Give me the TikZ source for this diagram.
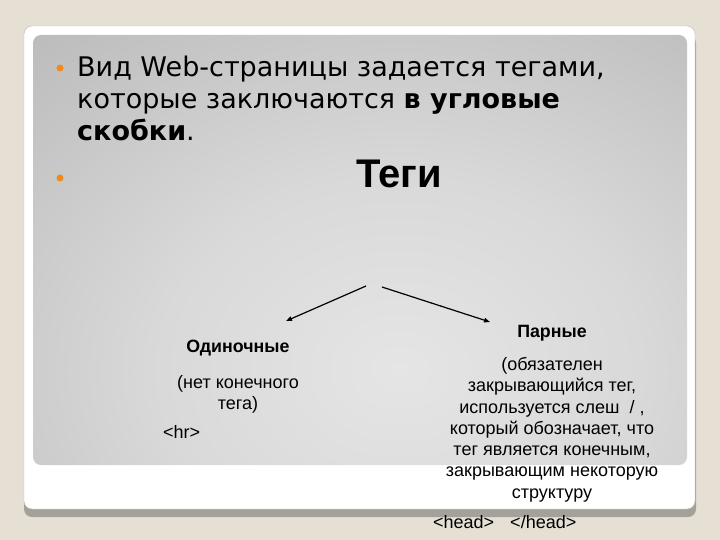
\documentclass[tikz,border=0pt]{standalone}
\usepackage{fontspec}
\setmainfont{Liberation Sans}
\newfontfamily\slidefont{DejaVu Sans}
\usetikzlibrary{arrows.meta}
\definecolor{slidebg}{RGB}{229,223,212}
\definecolor{cardedge}{RGB}{190,186,178}
\definecolor{cardshadow}{RGB}{164,161,154}
\definecolor{bulletorange}{RGB}{240,138,30}
\definecolor{shadeA}{RGB}{229,229,229}
\definecolor{shadeB}{RGB}{217,217,217}
\definecolor{shadeC}{RGB}{193,193,193}
\definecolor{shadeD}{RGB}{169,169,169}
\definecolor{shadeE}{RGB}{150,150,150}
\pgfdeclareradialshading{panelshade}{\pgfpoint{0bp}{0bp}}{color(0bp)=(shadeA); color(12bp)=(shadeB); color(25bp)=(shadeC); color(38bp)=(shadeD); color(50bp)=(shadeE)}

\begin{document}
\begin{tikzpicture}[x=1pt, y=-1pt,
  bullet/.style={circle, fill=bulletorange, inner sep=0pt, minimum size=7pt},
  kindlabel/.style={inner sep=0pt, anchor=base, font=\bfseries\fontsize{17.8}{20}\selectfont},
  kindnote/.style={inner sep=0pt, align=center, font=\fontsize{18}{21.3}\selectfont},
  branch/.style={line width=1.2pt, -{Triangle[length=6pt, width=4.5pt]}}]
\useasboundingbox (0,0) rectangle (720,540);
\fill[slidebg] (0,0) rectangle (720,540);

% card and grey panel
\fill[cardshadow, rounded corners=8pt] (24,35) rectangle (696,517);
\filldraw[fill=white, draw=cardedge, rounded corners=8pt] (24,26) rectangle (695,509);
\begin{scope}
  \clip[rounded corners=8pt] (33,35) rectangle (687,465);
  \shade[shading=panelshade] (-100,-30) rectangle (900,770);
\end{scope}

\node[bullet] (b1) at (60,68) {};
\node[bullet] (b2) at (60,178) {};
\node[inner sep=0pt, anchor=north west, align=left,
      font=\slidefont\fontsize{27}{32}\selectfont] (intro) at (77,55.5)
  {Вид Web-страницы задается тегами,\\
   которые заключаются \textbf{в угловые}\\
   \textbf{скобки}.};
\node[inner sep=0pt, anchor=base, font=\bfseries\fontsize{40}{44}\selectfont] (tags) at (399,188) {Теги};

\coordinate (splitL) at (366,286);
\coordinate (splitR) at (382,287);
\coordinate (tipL) at (286,321);
\coordinate (tipR) at (490,322);
\draw[branch] (splitL) -- (tipL);
\draw[branch] (splitR) -- (tipR);

\node[kindlabel] (single) at (238,352) {Одиночные};
\node[kindnote, anchor=north] (singlenote) at (238,375) {(нет конечного\\тега)};
\node[kindnote, anchor=base west] (hr) at (163,438) {<hr>};

\node[kindlabel] (paired) at (552,337) {Парные};
\node[kindnote, anchor=north] (pairednote) at (552,357)
  {(обязателен\\
   закрывающийся тег,\\
   используется слеш\ \ /\ ,\\
   который обозначает, что\\
   тег является конечным,\\
   закрывающим некоторую\\
   структуру};
\node[kindnote, anchor=base west] (head) at (433,528) {<head>\hspace{16pt}</head>};

\end{tikzpicture}
\end{document}
